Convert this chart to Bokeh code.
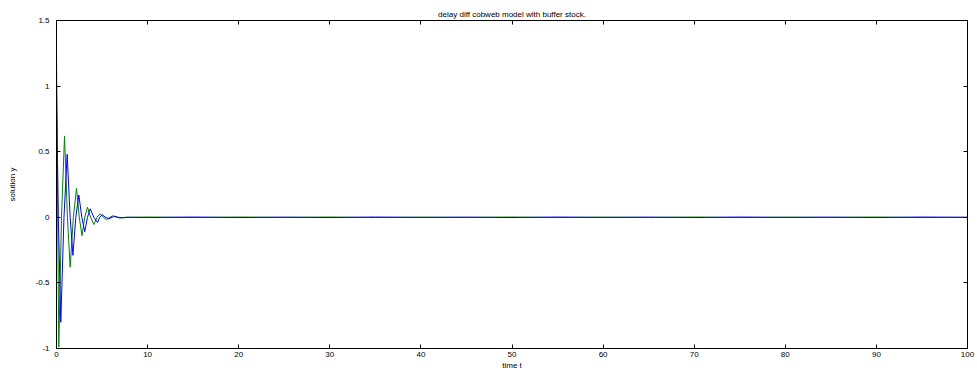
from bokeh.plotting import figure
from bokeh.models import LinearAxis, FixedTicker, Range1d, CustomJSTickFormatter
from bokeh.embed import file_html
from bokeh.resources import INLINE

# Data
green_t = [0, 0.25, 0.55, 0.88, 1.2, 1.5, 1.85, 2.2, 2.5, 2.8, 3.1, 3.4, 3.75, 4.1, 4.45, 4.8, 5.15, 5.5, 5.85, 6.2, 6.6, 7.0, 7.5,
           10, 15, 20, 25, 30, 35, 40, 45, 50, 55, 60, 65, 70, 75, 80, 85, 90, 95, 100]
green_y = [1.23, -0.99, 0.0, 0.62, 0.0, -0.38, 0.0, 0.22, 0.0, -0.14, 0.0, 0.077, 0.0, -0.055, 0.0, 0.027, 0.0, -0.018, 0.0, 0.012, 0.0, -0.006, 0.0,
           0.002, -0.002, 0.002, -0.001, 0.002, -0.002, 0.001, -0.001, 0.002, -0.002, 0.001, -0.001, 0.002, -0.002, 0.001, -0.001, 0.002, -0.002, 0.0]

blue_t = [0, 0.2, 0.47, 0.82, 1.17, 1.5, 1.8, 2.12, 2.45, 2.78, 3.1, 3.4, 3.7, 4.1, 4.5, 4.75, 5.0, 5.4, 5.75, 6.1, 6.4, 6.8, 7.3, 7.8,
          10, 15, 20, 25, 30, 35, 40, 45, 50, 55, 60, 65, 70, 75, 80, 85, 90, 95, 100]
blue_y = [1.0, 0.0, -0.80, 0.0, 0.48, 0.0, -0.29, 0.0, 0.17, 0.0, -0.11, 0.0, 0.065, 0.0, -0.04, 0.0, 0.02, 0.0, -0.012, 0.0, 0.008, 0.0, -0.004, 0.0,
          -0.002, 0.002, -0.002, 0.001, -0.002, 0.002, -0.001, 0.001, -0.002, 0.002, -0.001, 0.001, -0.002, 0.002, -0.001, 0.001, -0.002, 0.002, 0.0]

x_ticks = [0, 10, 20, 30, 40, 50, 60, 70, 80, 90, 100]
y_ticks = [-1, -0.5, 0, 0.5, 1, 1.5]
y_tick_labels = {-1: "-1", -0.5: "-0.5", 0: "0", 0.5: "0.5", 1: "1", 1.5: "1.5"}

title_text = "delay diff cobweb model with buffer stock."
x_label = "time t"
y_label = "solution y"

FONT = "Liberation Sans"

p = figure(width=977, height=372, output_backend="svg", toolbar_location=None,
           x_range=Range1d(0, 100), y_range=Range1d(-1, 1.5),
           min_border_left=56, min_border_right=10, min_border_top=20, min_border_bottom=24,
           background_fill_color="white", border_fill_color="white")

p.title.text = title_text
p.title.align = "center"
p.title.text_font = FONT
p.title.text_font_size = "8px"
p.title.text_font_style = "normal"
p.title.text_color = "black"
p.title.standoff = 3
p.title.offset = 0

p.xgrid.visible = False
p.ygrid.visible = False
p.outline_line_color = "black"
p.outline_line_width = 1

p.line(green_t, green_y, line_color="#008000", line_width=1)
p.line(blue_t, blue_y, line_color="#0000ff", line_width=1)

def style(ax, ticks):
    ax.ticker = FixedTicker(ticks=ticks)
    ax.major_tick_in = 4
    ax.major_tick_out = 0
    ax.minor_tick_in = 0
    ax.minor_tick_out = 0
    ax.axis_line_color = "black"
    ax.major_tick_line_color = "black"
    ax.major_label_text_font = FONT
    ax.major_label_text_font_size = "8px"
    ax.major_label_text_color = "black"
    ax.major_label_standoff = 3
    ax.axis_label_text_font = FONT
    ax.axis_label_text_font_size = "8px"
    ax.axis_label_text_font_style = "normal"
    ax.axis_label_text_color = "black"
    ax.axis_label_standoff = 1

xa = p.xaxis[0]
style(xa, x_ticks)
xa.axis_label = x_label

ya = p.yaxis[0]
style(ya, y_ticks)
ya.major_label_overrides = y_tick_labels
ya.major_label_standoff = 7
ya.axis_label = y_label
ya.axis_label_standoff = 16

blank = CustomJSTickFormatter(code="return '';")

ra = LinearAxis(formatter=blank)
style(ra, y_ticks)
ra.major_label_standoff = 0
p.add_layout(ra, "right")

ta = LinearAxis(formatter=blank)
style(ta, x_ticks)
ta.major_label_standoff = 0
p.add_layout(ta, "above")

open("out.html", "w").write(file_html(p, INLINE))
